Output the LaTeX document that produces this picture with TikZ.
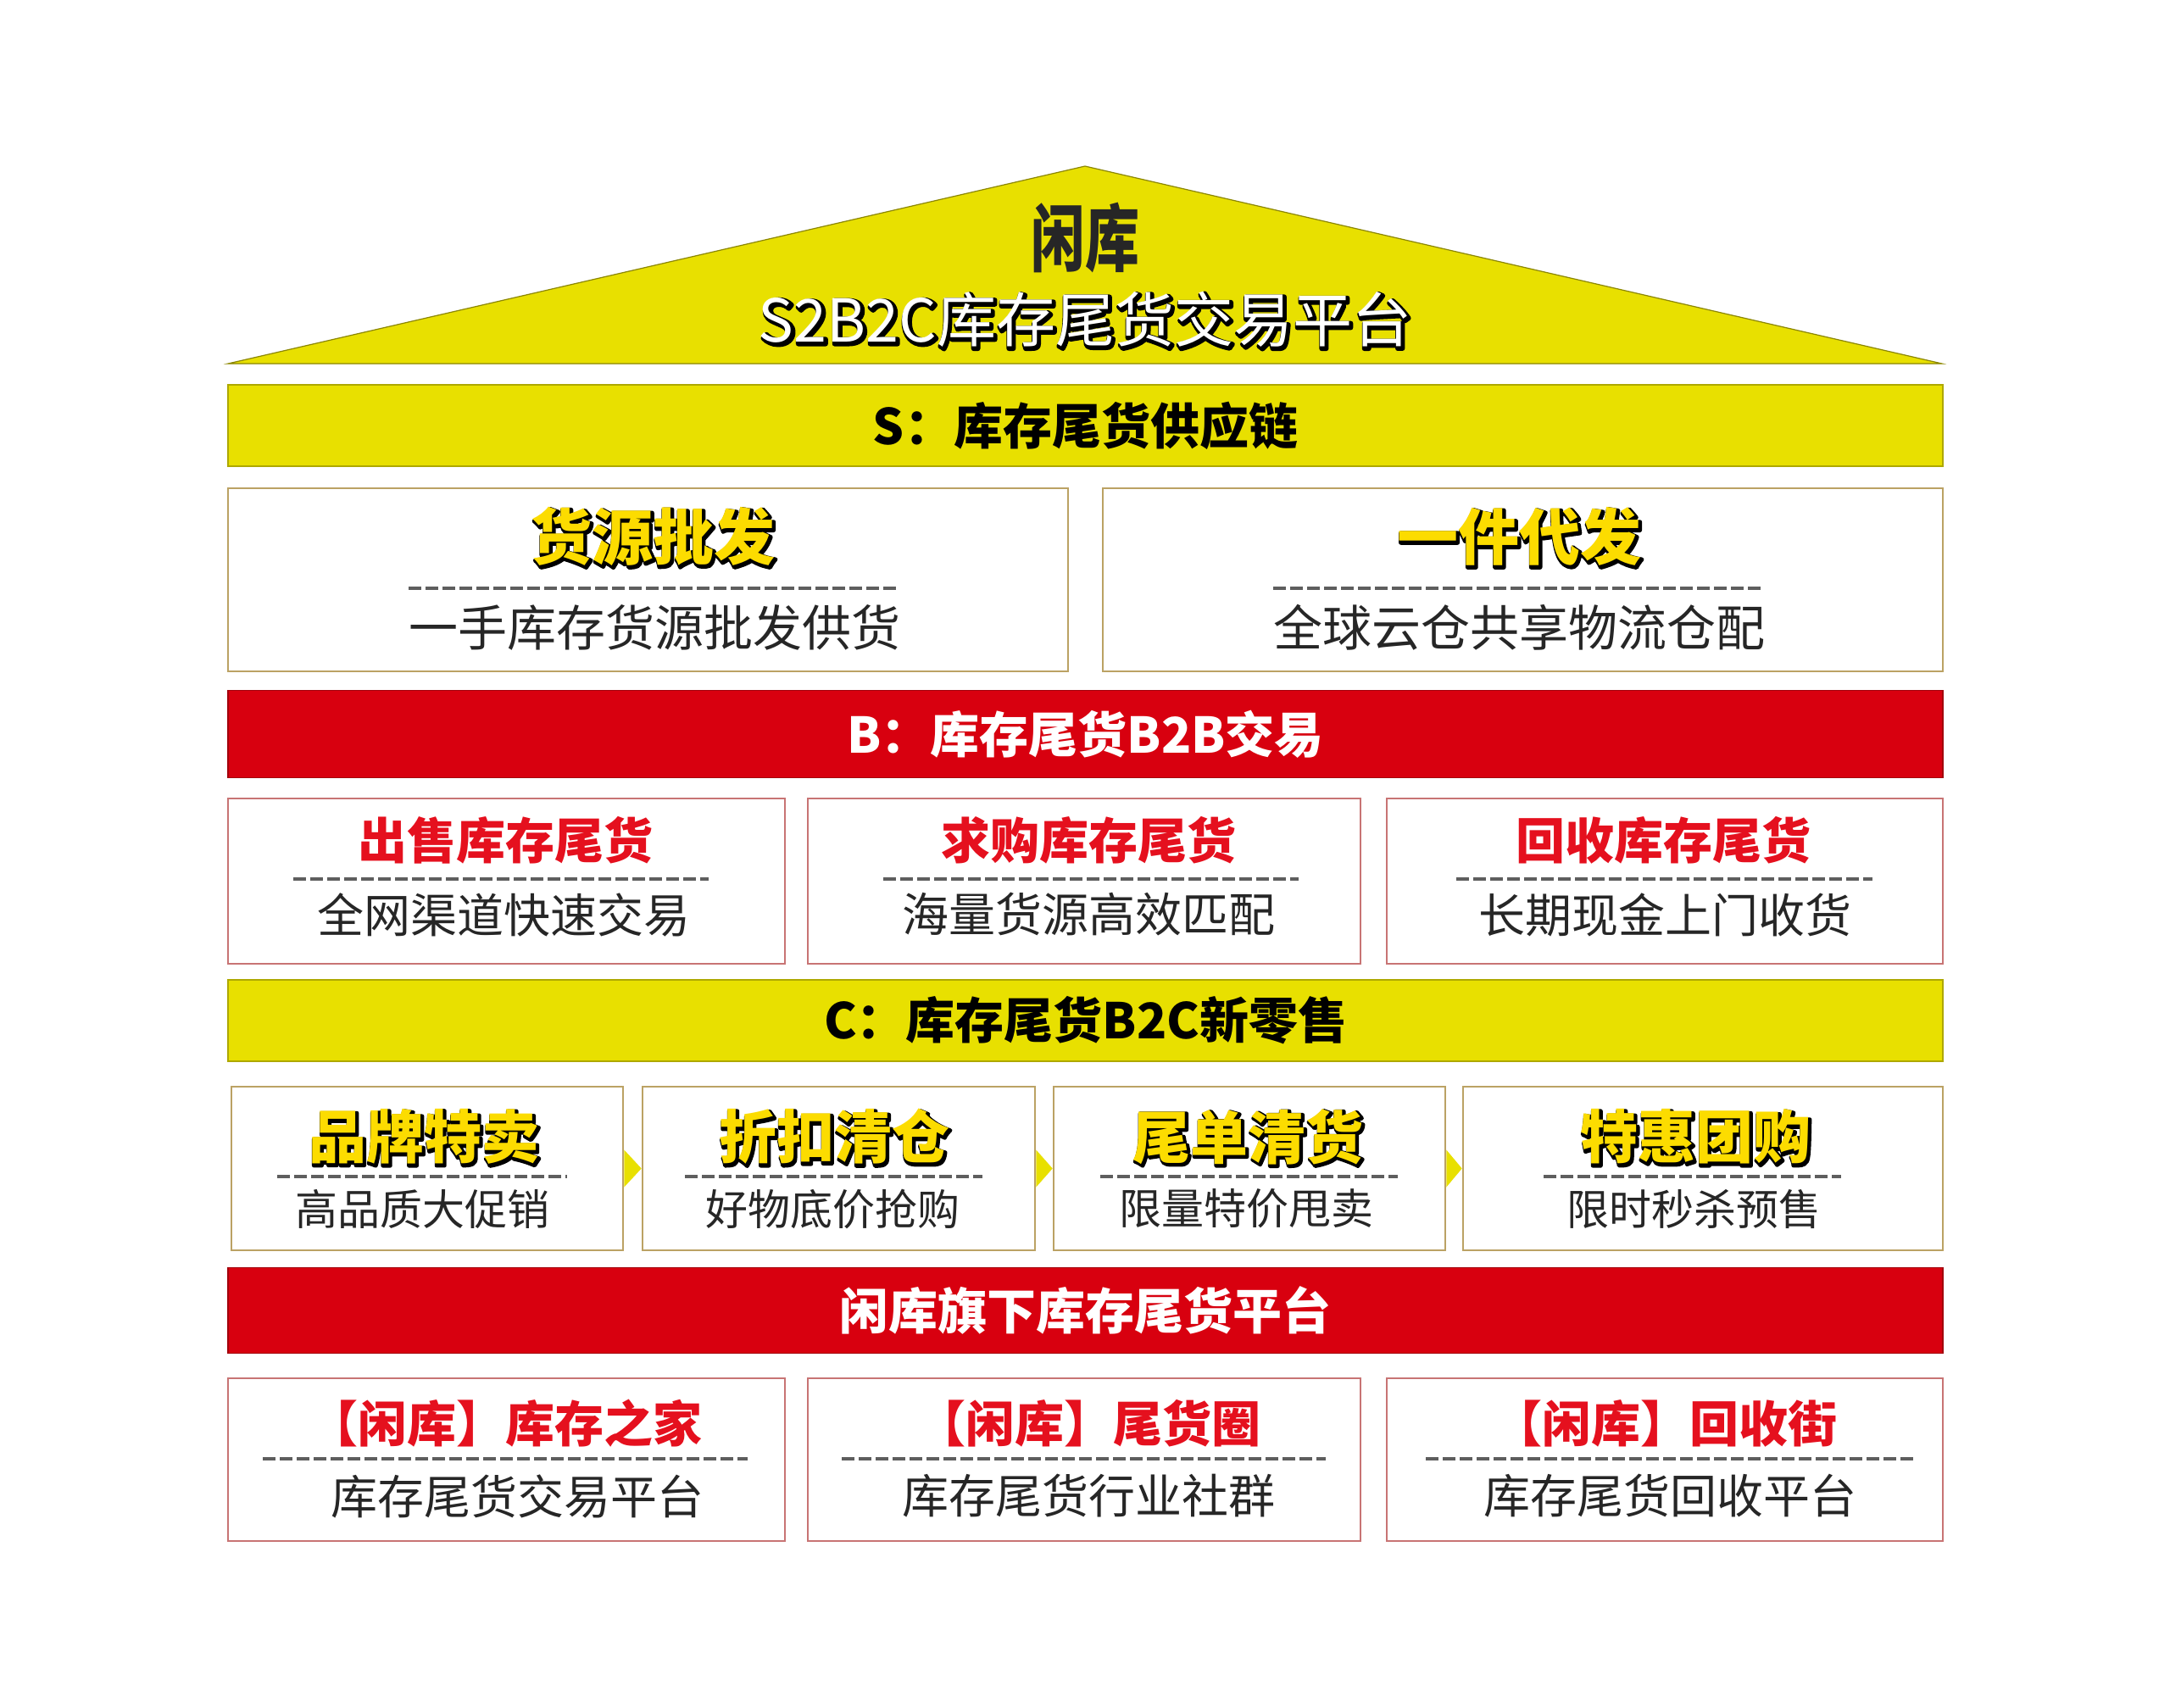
\documentclass[tikz,border=0pt]{standalone}
\usepackage{fontspec}
\setmainfont{Noto Sans CJK SC}
\usetikzlibrary{calc}
\definecolor{xkyellow}{HTML}{E8E000}
\definecolor{xkred}{HTML}{D8000F}
\definecolor{xkgold}{HTML}{BBA264}
\definecolor{xkpink}{HTML}{C87474}
\definecolor{xktitle}{HTML}{E5101E}
\definecolor{xkgoldtext}{HTML}{FCDC00}
\definecolor{xkgray}{HTML}{262626}
\definecolor{xkdash}{HTML}{5E5E5E}
\newcommand{\xkfont}[1]{\fontsize{#1}{#1}\selectfont}
% black stroked copy underneath, coloured text on top
\newcommand{\xkoutline}[2]{\rlap{\kern1pt\raisebox{-1pt}{\color{black}\special{pdf:literal direct 2 Tr #1 w 1 j}#2\special{pdf:literal direct 0 Tr}}}#2}
\begin{document}
\begin{tikzpicture}[x=1pt,y=-1pt,
  bar/.style={draw=#1!75!black,fill=#1,line width=0.6pt,minimum width=1011.5pt,inner sep=0pt},
  ybox/.style={draw=xkgold,line width=1.3pt,fill=white,inner sep=0pt},
  rbox/.style={draw=xkpink,line width=1.3pt,fill=white,inner sep=0pt},
  bartext/.style={font=\xkfont{29}\bfseries,text=#1},
  bigtitle/.style={font=\xkfont{#1}\bfseries,text=xkgoldtext},
  redtitle/.style={font=\xkfont{29}\bfseries,text=xktitle},
  sub/.style={font=\xkfont{#1},text=xkgray},
  dashline/.style={xkdash,line width=2.3pt,dash pattern=on 7.5pt off 2.5pt}]
\useasboundingbox[fill=white] (0,0) rectangle (1280,1007);
% roof
\filldraw[fill=xkyellow,draw=xkyellow!60!black,line width=0.6pt] (134.5,214.5) -- (640,98) -- (1145.5,214.5) -- cycle;
\node[font=\xkfont{32}\bfseries,yscale=1.35,text=black!85] (logo) at (640,140) {闲库};
\node[font=\xkfont{35},text=white] (platform) at (640,189) {\xkoutline{2.8}{S2B2C库存尾货交易平台}};
% S
\node[bar=xkyellow,minimum height=48pt] (sbar) at (640.25,251) {};
\node[bartext=black] (sbarT) at (sbar) {S：库存尾货供应链};
\node[ybox,minimum width=495.5pt,minimum height=108pt] (wholesale) at (382.25,342) {};
\node[ybox,minimum width=495.5pt,minimum height=108pt] (dropship) at (898.25,342) {};
\node[bigtitle=36] (wholesaleT) at (385,317) {\xkoutline{2.4}{货源批发}};
\node[bigtitle=36] (dropshipT) at (896,317) {\xkoutline{2.4}{一件代发}};
\draw[dashline] (241,347) -- (530.5,347);
\draw[dashline] (751,347) -- (1041,347);
\node[sub=29] (wholesaleS) at (386,370) {一手库存货源批发供货};
\node[sub=29] (dropshipS) at (896,370) {全球云仓共享物流仓配};
% B
\node[bar=xkred,minimum height=51.5pt] (bbar) at (640.25,433) {};
\node[bartext=white] (bbarT) at (bbar) {B：库存尾货B2B交易};
\node[rbox,minimum width=328.5pt,minimum height=97.5pt] (sell) at (298.75,519.75) {};
\node[rbox,minimum width=326pt,minimum height=97.5pt] (buy) at (639.5,519.75) {};
\node[rbox,minimum width=328pt,minimum height=97.5pt] (recycle) at (982,519.75) {};
\node[redtitle] (sellT) at (298,495.5) {出售库存尾货};
\node[redtitle] (buyT) at (642,495.5) {求购库存尾货};
\node[redtitle] (recycleT) at (981,495.5) {回收库存尾货};
\draw[dashline] (173,518.5) -- (418,518.5);
\draw[dashline] (521,518.5) -- (766,518.5);
\draw[dashline] (859,518.5) -- (1104.5,518.5);
\node[sub=27.5] (sellS) at (297,539.5) {全网渠道快速交易};
\node[sub=27.5] (buyS) at (642,539.5) {海量货源高效匹配};
\node[sub=27.5] (recycleS) at (982,539.5) {长期现金上门收货};
% C
\node[bar=xkyellow,minimum height=48pt] (cbar) at (640.25,602) {};
\node[bartext=black] (cbarT) at (cbar) {C：库存尾货B2C新零售};
\node[ybox,minimum width=231pt,minimum height=96.5pt] (brand) at (252,689.25) {};
\node[ybox,minimum width=231.5pt,minimum height=96.5pt] (discount) at (494.75,689.25) {};
\node[ybox,minimum width=231pt,minimum height=96.5pt] (clearance) at (737,689.25) {};
\node[ybox,minimum width=283pt,minimum height=96.5pt] (group) at (1004.5,689.25) {};
\fill[xkyellow] ($(brand.east)+(0,-11)$) -- (discount.west) -- ($(brand.east)+(0,11)$) -- cycle;
\fill[xkyellow] ($(discount.east)+(0,-11)$) -- (clearance.west) -- ($(discount.east)+(0,11)$) -- cycle;
\fill[xkyellow] ($(clearance.east)+(0,-11)$) -- (group.west) -- ($(clearance.east)+(0,11)$) -- cycle;
\node[bigtitle=34] (brandT) at (250,671) {\xkoutline{2.3}{品牌特卖}};
\node[bigtitle=34] (discountT) at (492,671) {\xkoutline{2.3}{折扣清仓}};
\node[bigtitle=34] (clearanceT) at (736,671) {\xkoutline{2.3}{尾单清货}};
\node[bigtitle=34] (groupT) at (1000,671) {\xkoutline{2.3}{特惠团购}};
\draw[dashline] (163.5,694) -- (334.5,694);
\draw[dashline] (404,694) -- (579.5,694);
\draw[dashline] (649,694) -- (824.5,694);
\draw[dashline] (910.5,694) -- (1086,694);
\node[sub=25] (brandS) at (249,713) {高品质大促销};
\node[sub=25] (discountS) at (491,713) {好物底价抢购};
\node[sub=25] (clearanceS) at (735,713) {限量特价甩卖};
\node[sub=25] (groupS) at (999,713) {限时秒杀预售};
% platforms
\node[bar=xkred,minimum height=50.5pt] (hbar) at (640.25,773) {};
\node[bartext=white] (hbarT) at (hbar) {闲库旗下库存尾货平台};
\node[rbox,minimum width=328.5pt,minimum height=96pt] (home) at (298.75,861) {};
\node[rbox,minimum width=326pt,minimum height=96pt] (circle) at (639.5,861) {};
\node[rbox,minimum width=328pt,minimum height=96pt] (street) at (982,861) {};
\node[redtitle] (homeT) at (298,839.5) {【闲库】库存之家};
\node[redtitle] (circleT) at (642,839.5) {【闲库】尾货圈};
\node[redtitle] (streetT) at (982,839.5) {【闲库】回收街};
\draw[dashline] (155,860.5) -- (441,860.5);
\draw[dashline] (496.5,860.5) -- (782,860.5);
\draw[dashline] (841,860.5) -- (1129,860.5);
\node[sub=27.5] (homeS) at (305,882.5) {库存尾货交易平台};
\node[sub=27.5] (circleS) at (642,882.5) {库存尾货行业社群};
\node[sub=27.5] (streetS) at (985,882.5) {库存尾货回收平台};
\end{tikzpicture}
\end{document}
